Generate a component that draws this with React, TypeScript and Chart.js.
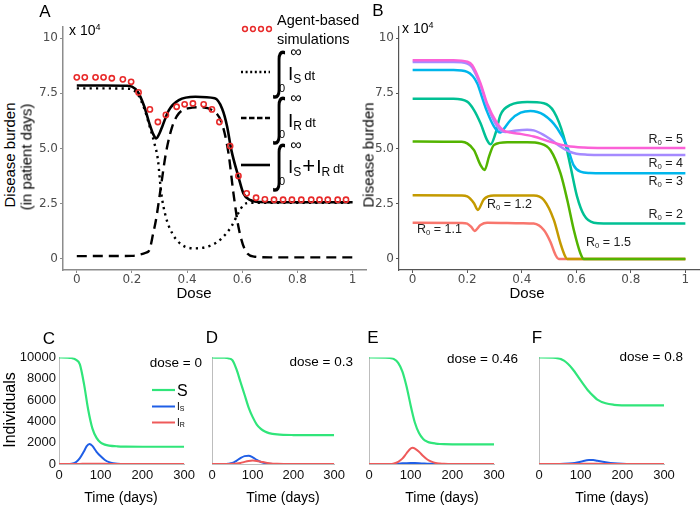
import React, { useEffect, useRef } from "react";
import { Chart, registerables } from "chart.js";
Chart.register(...registerables);

const SANS = '"Liberation Sans", Arial, sans-serif';
const DEJAVU = '"DejaVu Sans", sans-serif';

// ---------- Panel A (dose vs disease burden, x 10^4) ----------
const DOSE_TICKS = [0, 0.2, 0.4, 0.6, 0.8, 1];
const DOSE_TICK_LABELS = ["0", "0.2", "0.4", "0.6", "0.8", "1"];
const BURDEN_TICKS = [0, 2.5, 5, 7.5, 10];
const BURDEN_TICK_LABELS = ["0", "2.5", "5.0", "7.5", "10"];

const A_ABM_DOSE = [0, 0.029, 0.068, 0.097, 0.127, 0.167, 0.197, 0.224, 0.265, 0.294, 0.323, 0.362, 0.391, 0.421, 0.46, 0.49, 0.517, 0.556, 0.586, 0.616, 0.65, 0.682, 0.715, 0.748, 0.78, 0.814, 0.85, 0.88, 0.91, 0.946, 0.976];
const A_ABM = [8.22, 8.22, 8.22, 8.22, 8.18, 8.13, 8.02, 7.54, 6.77, 6.2, 6.52, 6.89, 7.0, 7.04, 7.0, 6.77, 6.2, 5.11, 3.76, 2.97, 2.77, 2.7, 2.68, 2.68, 2.68, 2.68, 2.68, 2.68, 2.68, 2.68, 2.68];

const A_TOTAL_DOSE = [0, 0.1, 0.18, 0.2, 0.221, 0.245, 0.263, 0.277, 0.288, 0.3, 0.31, 0.334, 0.37, 0.43, 0.5, 0.527, 0.545, 0.56, 0.586, 0.604, 0.628, 0.66, 0.75, 1.0];
const A_TOTAL = [7.85, 7.85, 7.84, 7.8, 7.57, 6.89, 6.14, 5.65, 5.46, 5.69, 6.0, 6.74, 7.19, 7.34, 7.27, 6.8, 6.0, 4.95, 3.72, 2.97, 2.67, 2.58, 2.57, 2.57];

const A_IS_DOSE = [0, 0.1, 0.18, 0.2, 0.221, 0.245, 0.263, 0.28, 0.294, 0.306, 0.323, 0.346, 0.382, 0.43, 0.49, 0.526, 0.56, 0.586, 0.604, 0.63, 0.7, 1.0];
const A_IS = [7.72, 7.72, 7.71, 7.67, 7.45, 6.8, 6.05, 5.3, 4.5, 3.0, 1.9, 1.16, 0.63, 0.48, 0.63, 0.94, 1.46, 2.08, 2.44, 2.54, 2.54, 2.54];

const A_IR_DOSE = [0, 0.2, 0.23, 0.25, 0.263, 0.277, 0.287, 0.305, 0.323, 0.346, 0.37, 0.418, 0.44, 0.49, 0.526, 0.55, 0.568, 0.586, 0.61, 0.646, 0.7, 1.0];
const A_IR = [0.13, 0.14, 0.2, 0.28, 0.4, 1.16, 1.76, 3.27, 4.78, 5.99, 6.59, 6.85, 6.87, 6.74, 6.14, 4.78, 2.97, 1.46, 0.41, 0.1, 0.07, 0.07];

// ---------- Panel B (burden by R0) ----------
const B_R5_DOSE = [0, 0.15, 0.2, 0.218, 0.249, 0.273, 0.31, 0.335, 0.36, 0.4, 0.444, 0.505, 0.567, 0.628, 0.7, 1.0];
const B_R5 = [9.0, 9.0, 8.93, 8.78, 7.95, 7.04, 6.14, 5.8, 5.72, 5.65, 5.54, 5.3, 5.11, 5.04, 5.02, 5.02];
const B_R4_DOSE = [0, 0.15, 0.2, 0.218, 0.249, 0.273, 0.3, 0.32, 0.34, 0.38, 0.42, 0.444, 0.48, 0.505, 0.54, 0.567, 0.6, 0.64, 0.7, 1.0];
const B_R4 = [8.91, 8.91, 8.85, 8.68, 7.85, 6.95, 6.2, 5.85, 5.75, 5.82, 5.85, 5.82, 5.62, 5.42, 5.1, 4.9, 4.76, 4.72, 4.71, 4.71];
const B_R3_DOSE = [0, 0.15, 0.2, 0.237, 0.255, 0.273, 0.298, 0.312, 0.322, 0.335, 0.359, 0.396, 0.432, 0.481, 0.53, 0.567, 0.59, 0.615, 0.65, 0.7, 1.0];
const B_R3 = [8.55, 8.55, 8.47, 7.95, 7.3, 6.67, 6.0, 5.78, 5.72, 5.9, 6.29, 6.62, 6.7, 6.52, 5.92, 5.08, 4.25, 3.95, 3.89, 3.88, 3.88];
const B_R2_DOSE = [0, 0.15, 0.2, 0.225, 0.249, 0.273, 0.286, 0.304, 0.322, 0.359, 0.42, 0.481, 0.518, 0.554, 0.579, 0.603, 0.628, 0.664, 0.7, 1.0];
const B_R2 = [7.25, 7.25, 7.12, 6.74, 6.14, 5.38, 5.19, 5.69, 6.52, 6.97, 7.1, 7.05, 6.67, 5.54, 4.18, 2.82, 1.99, 1.64, 1.61, 1.61];
const B_R15_DOSE = [0, 0.18, 0.2, 0.225, 0.249, 0.264, 0.28, 0.298, 0.347, 0.42, 0.469, 0.505, 0.542, 0.567, 0.591, 0.615, 0.628, 0.7, 1.0];
const B_R15 = [5.32, 5.3, 5.23, 4.93, 4.25, 4.03, 4.63, 5.16, 5.28, 5.28, 5.22, 4.93, 3.88, 2.67, 1.31, 0.26, 0, 0, 0];
const B_R12_DOSE = [0, 0.18, 0.2, 0.225, 0.239, 0.261, 0.298, 0.444, 0.481, 0.518, 0.542, 0.56, 0.567, 0.7, 1.0];
const B_R12 = [2.88, 2.87, 2.83, 2.52, 2.22, 2.7, 2.87, 2.87, 2.67, 1.76, 0.71, 0.1, 0, 0, 0];
const B_R11_DOSE = [0, 0.18, 0.2, 0.215, 0.227, 0.249, 0.273, 0.4, 0.444, 0.481, 0.505, 0.524, 0.536, 0.7, 1.0];
const B_R11 = [1.64, 1.63, 1.6, 1.45, 1.27, 1.54, 1.64, 1.62, 1.6, 1.31, 0.78, 0.18, 0, 0, 0];

// ---------- Panels C-F (time courses) ----------
const TIME_TICKS = [0, 100, 200, 300];
const TIME_TICK_LABELS = ["0", "100", "200", "300"];
const IND_TICKS = [0, 2000, 4000, 6000, 8000, 10000];
const IND_TICK_LABELS = ["0", "2000", "4000", "6000", "8000", "10000"];

const C_T_S = [0, 20, 30, 40, 50, 60, 70, 80, 90, 100, 110, 120, 140, 160, 200, 250, 300];
const C_S = [10000, 9990, 9950, 9800, 9350, 7500, 5100, 3350, 2450, 2000, 1820, 1730, 1660, 1635, 1620, 1620, 1620];
const C_T_I = [0, 20, 30, 40, 50, 60, 66, 73, 80, 90, 100, 110, 120, 130, 140, 160, 200, 300];
const C_IS = [0, 0, 20, 150, 550, 1200, 1650, 1870, 1700, 1150, 720, 380, 170, 70, 20, 0, 0, 0];
const C_IR = [0, 0, 0, 5, 10, 20, 25, 30, 30, 25, 20, 15, 10, 5, 0, 0, 0, 0];

const D_T = [0, 30, 40, 50, 60, 70, 80, 90, 100, 110, 120, 130, 140, 160, 200, 250, 300];
const D_S = [10000, 9980, 9930, 9750, 8900, 7700, 6500, 5300, 4400, 3700, 3300, 3050, 2900, 2780, 2720, 2710, 2710];
const D_IS = [0, 0, 20, 90, 300, 560, 740, 770, 620, 380, 190, 80, 30, 0, 0, 0, 0];
const D_IR = [0, 0, 5, 15, 40, 100, 200, 280, 320, 290, 220, 140, 80, 20, 0, 0, 0];

const E_T = [0, 40, 50, 60, 70, 80, 90, 100, 105, 110, 120, 130, 140, 150, 160, 170, 180, 200, 250, 300];
const E_S = [10000, 9990, 9950, 9850, 9500, 8700, 7300, 5500, 4650, 3900, 2900, 2350, 2100, 1980, 1920, 1880, 1860, 1850, 1850, 1850];
const E_IR = [0, 0, 0, 50, 200, 500, 1000, 1450, 1530, 1450, 1150, 750, 420, 220, 100, 50, 20, 0, 0, 0];
const E_IS = [0, 0, 0, 10, 30, 60, 80, 90, 90, 85, 70, 50, 30, 15, 10, 5, 0, 0, 0, 0];

const F_T = [0, 40, 60, 80, 100, 120, 130, 140, 160, 180, 200, 220, 250, 300];
const F_S = [10000, 9970, 9700, 8950, 7850, 6800, 6400, 6050, 5700, 5560, 5510, 5500, 5500, 5500];
const F_IS = [0, 0, 20, 80, 220, 370, 370, 300, 170, 70, 20, 0, 0, 0];
const F_IR = [0, 0, 0, 5, 10, 15, 15, 12, 8, 5, 0, 0, 0, 0];

// ---------- colours ----------
const ABM_RED = "#e82a2a";
const R0_COLORS = { r11: "#F8766D", r12: "#C49A00", r15: "#53B400", r2: "#00C094", r3: "#00B6EB", r4: "#A58AFF", r5: "#FB61D7" };
const S_GREEN = "#30e57a";
const IS_BLUE = "#1f5ee6";
const IR_RED = "#ee5a5a";

const pts = (xs: number[], ys: number[]) => xs.map((x, i) => ({ x, y: ys[i] }));

type Box = { left: number; top: number; width: number; height: number };
type Area = { l: number; t: number; r: number; b: number };

function ChartBox({ box, area, make }: { box: Box; area: Area; make: () => any }) {
  const ref = useRef<HTMLCanvasElement>(null);
  useEffect(() => {
    const cfg = make();
    const yW = area.l - box.left;
    const xH = box.top + box.height - area.b;
    cfg.options.layout = { padding: { top: area.t - box.top, right: box.left + box.width - area.r, left: 0, bottom: 0 } };
    cfg.options.scales.x.afterFit = (s: any) => { s.height = xH; };
    cfg.options.scales.y.afterFit = (s: any) => { s.width = yW; };
    const chart = new Chart(ref.current as HTMLCanvasElement, cfg);
    return () => chart.destroy();
  }, []);
  return (
    <canvas
      ref={ref}
      width={box.width}
      height={box.height}
      style={{ position: "absolute", left: box.left, top: box.top, width: box.width, height: box.height }}
    />
  );
}

const lineDs = (data: any[], color: string, width: number, order: number, dash: number[] = []) => ({
  data,
  showLine: true,
  borderColor: color,
  borderWidth: width,
  borderDash: dash,
  pointRadius: 0,
  cubicInterpolationMode: "monotone",
  fill: false,
  order,
});

const baseOptions = () => ({
  responsive: false,
  maintainAspectRatio: false,
  devicePixelRatio: 1,
  animation: false,
  events: [],
  plugins: { legend: { display: false }, tooltip: { enabled: false } },
});

function doseScales(axisColor: string, axisWidth: number) {
  const tickFont = { family: DEJAVU, size: 12, lineHeight: 1 };
  return {
    x: {
      type: "linear",
      min: -0.05,
      max: 1.05,
      afterBuildTicks: (s: any) => { s.ticks = DOSE_TICKS.map((v) => ({ value: v })); },
      ticks: { callback: (_v: any, i: number) => DOSE_TICK_LABELS[i], font: tickFont, color: "#4d4d4d", padding: 1, maxRotation: 0, autoSkip: false },
      grid: { drawOnChartArea: false, drawTicks: true, tickLength: 3, color: axisColor, lineWidth: 1 },
      border: { display: true, color: axisColor, width: axisWidth },
    },
    y: {
      type: "linear",
      min: -0.5,
      max: 10.5,
      afterBuildTicks: (s: any) => { s.ticks = BURDEN_TICKS.map((v) => ({ value: v })); },
      ticks: { callback: (_v: any, i: number) => BURDEN_TICK_LABELS[i], font: tickFont, color: "#4d4d4d", padding: 2, autoSkip: false },
      grid: { drawOnChartArea: false, drawTicks: true, tickLength: 3, color: axisColor, lineWidth: 1 },
      border: { display: true, color: axisColor, width: axisWidth },
    },
  };
}

const makeA = () => ({
  type: "scatter",
  data: {
    datasets: [
      {
        data: pts(A_ABM_DOSE, A_ABM),
        showLine: false,
        pointRadius: 2.6,
        pointBorderWidth: 1.6,
        pointBorderColor: ABM_RED,
        pointBackgroundColor: "rgba(255,255,255,0)",
        order: 0,
      },
      lineDs(pts(A_TOTAL_DOSE, A_TOTAL), "#000", 2.6, 1),
      lineDs(pts(A_IR_DOSE, A_IR), "#000", 2.4, 2, [10, 6]),
      lineDs(pts(A_IS_DOSE, A_IS), "#000", 2.4, 3, [2.2, 4.2]),
    ],
  },
  options: { ...baseOptions(), scales: doseScales("#8c8c8c", 1.5) },
});

const makeB = () => ({
  type: "scatter",
  data: {
    datasets: [
      lineDs(pts(B_R5_DOSE, B_R5), R0_COLORS.r5, 2.5, 1),
      lineDs(pts(B_R4_DOSE, B_R4), R0_COLORS.r4, 2.5, 2),
      lineDs(pts(B_R3_DOSE, B_R3), R0_COLORS.r3, 2.5, 3),
      lineDs(pts(B_R2_DOSE, B_R2), R0_COLORS.r2, 2.5, 4),
      lineDs(pts(B_R15_DOSE, B_R15), R0_COLORS.r15, 2.5, 5),
      lineDs(pts(B_R12_DOSE, B_R12), R0_COLORS.r12, 2.5, 6),
      lineDs(pts(B_R11_DOSE, B_R11), R0_COLORS.r11, 2.5, 7),
    ],
  },
  options: { ...baseOptions(), scales: doseScales("#555", 1.2) },
});

function makeTime(tS: number[], s: number[], tI: number[], is: number[], ir: number[], showY: boolean) {
  return () => ({
    type: "scatter",
    data: {
      datasets: [
        lineDs(pts(tI, ir), IR_RED, 2, 1),
        lineDs(pts(tI, is), IS_BLUE, 2, 2),
        lineDs(pts(tS, s), S_GREEN, 2.2, 3),
      ],
    },
    options: {
      ...baseOptions(),
      scales: {
        x: {
          type: "linear",
          min: 0,
          max: 300,
          afterBuildTicks: (sc: any) => { sc.ticks = TIME_TICKS.map((v) => ({ value: v })); },
          ticks: { callback: (_v: any, i: number) => TIME_TICK_LABELS[i], font: { family: SANS, size: 13, lineHeight: 1 }, color: "#111", padding: 5, maxRotation: 0, autoSkip: false },
          grid: { drawOnChartArea: false, drawTicks: false },
          border: { display: true, color: "#bdbdbd", width: 1 },
        },
        y: {
          type: "linear",
          min: 0,
          max: 10000,
          afterBuildTicks: (sc: any) => { sc.ticks = IND_TICKS.map((v) => ({ value: v })); },
          ticks: { display: showY, callback: (_v: any, i: number) => IND_TICK_LABELS[i], font: { family: SANS, size: 13, lineHeight: 1 }, color: "#111", padding: 3, autoSkip: false },
          grid: { drawOnChartArea: false, drawTicks: false },
          border: { display: true, color: "#bdbdbd", width: 1 },
        },
      },
    },
  });
}

function Txt({ x, y, size = 14, anchor = "middle", rotate = 0, extra = "", color = "#000", family = SANS, weight = 400, children }: any) {
  const tx = anchor === "middle" ? "-50%" : anchor === "end" ? "-100%" : "0";
  return (
    <div
      style={{
        position: "absolute",
        left: x,
        top: y,
        transform: `translate(${tx},-50%)${rotate ? ` rotate(${rotate}deg)` : ""}${extra ? " " + extra : ""}`,
        fontSize: size,
        fontWeight: weight,
        lineHeight: 1,
        whiteSpace: "nowrap",
        color,
        fontFamily: family,
      }}
    >
      {children}
    </div>
  );
}

const Sub = ({ children, size = "0.62em", drop = "-0.28em" }: any) => (
  <span style={{ fontSize: size, verticalAlign: drop, lineHeight: 0 }}>{children}</span>
);

function R0Label({ x, y, value, anchor = "end" }: any) {
  return (
    <Txt x={x} y={y} size={12.5} anchor={anchor} color="#222">
      R<Sub>0</Sub> = {value}
    </Txt>
  );
}

function Integral({ y }: { y: number }) {
  return (
    <>
      <Txt x={279} y={y} size={34} family={'"DejaVu Sans", sans-serif'} weight={200} extra="scale(0.95, 1.5)">∫</Txt>
      <Txt x={296} y={y - 18} size={16} family={DEJAVU} weight={200}>∞</Txt>
      <Txt x={282} y={y + 18} size={11}>0</Txt>
    </>
  );
}

export default function App() {
  return (
    <div style={{ position: "absolute", left: 0, top: 0, width: 700, height: 506, background: "#fff", overflow: "hidden", fontFamily: SANS }}>
      <ChartBox box={{ left: 30, top: 15, width: 342, height: 275 }} area={{ l: 63, t: 27, r: 369, b: 270 }} make={makeA} />
      <ChartBox box={{ left: 372, top: 15, width: 328, height: 275 }} area={{ l: 399, t: 27, r: 699, b: 270 }} make={makeB} />
      <ChartBox box={{ left: 0, top: 345, width: 200, height: 140 }} area={{ l: 59, t: 357.5, r: 185, b: 464 }} make={makeTime(C_T_S, C_S, C_T_I, C_IS, C_IR, true)} />
      <ChartBox box={{ left: 190, top: 345, width: 160, height: 140 }} area={{ l: 212, t: 357.5, r: 337, b: 464 }} make={makeTime(D_T, D_S, D_T, D_IS, D_IR, false)} />
      <ChartBox box={{ left: 350, top: 345, width: 160, height: 140 }} area={{ l: 369, t: 357.5, r: 494, b: 464 }} make={makeTime(E_T, E_S, E_T, E_IS, E_IR, false)} />
      <ChartBox box={{ left: 520, top: 345, width: 165, height: 140 }} area={{ l: 539, t: 357.5, r: 664, b: 464 }} make={makeTime(F_T, F_S, F_T, F_IS, F_IR, false)} />

      {/* panel letters */}
      <Txt x={45} y={11} size={17}>A</Txt>
      <Txt x={378} y={10} size={17}>B</Txt>
      <Txt x={49} y={337.5} size={17}>C</Txt>
      <Txt x={212} y={337} size={17}>D</Txt>
      <Txt x={373} y={337} size={17}>E</Txt>
      <Txt x={537} y={337} size={17}>F</Txt>

      {/* axis titles top */}
      <Txt x={9} y={155} size={15} rotate={-90}>Disease burden</Txt>
      <Txt x={26} y={157} size={15} rotate={-90}>(in patient days)</Txt>
      <Txt x={368} y={155} size={15} rotate={-90}>Disease burden</Txt>
      <Txt x={194} y={292} size={15}>Dose</Txt>
      <Txt x={527} y={292} size={15}>Dose</Txt>
      <Txt x={69} y={30} size={14} anchor="start">x 10<sup style={{ fontSize: 9, verticalAlign: "0.6em", lineHeight: 0 }}>4</sup></Txt>
      <Txt x={402} y={28} size={14} anchor="start">x 10<sup style={{ fontSize: 9, verticalAlign: "0.6em", lineHeight: 0 }}>4</sup></Txt>

      {/* panel A legend */}
      <svg width={700} height={506} style={{ position: "absolute", left: 0, top: 0, pointerEvents: "none" }}>
        {[245, 253, 261, 269].map((cx) => (
          <circle key={cx} cx={cx} cy={29} r={2.4} fill="none" stroke={ABM_RED} strokeWidth={1.5} />
        ))}
        <line x1={241} y1={72} x2={270} y2={72} stroke="#000" strokeWidth={2.4} strokeDasharray="2 2.6" />
        <line x1={241} y1={118} x2={270} y2={118} stroke="#000" strokeWidth={2.4} strokeDasharray="5.5 2.5" />
        <line x1={241} y1={165} x2={270} y2={165} stroke="#000" strokeWidth={2.6} />
        {/* panel C legend */}
        <line x1={152} y1={390} x2={175} y2={390} stroke={S_GREEN} strokeWidth={2.2} />
        <line x1={152} y1={406.5} x2={175} y2={406.5} stroke={IS_BLUE} strokeWidth={2} />
        <line x1={152} y1={422.5} x2={175} y2={422.5} stroke={IR_RED} strokeWidth={2} />
      </svg>
      <Txt x={277} y={20} size={14.5} anchor="start">Agent-based</Txt>
      <Txt x={277} y={39} size={14.5} anchor="start">simulations</Txt>
      <Integral y={70} />
      <Integral y={116} />
      <Integral y={163} />
      <Txt x={288} y={73} size={19} anchor="start">I<Sub size={12} drop="-0.25em">S</Sub><span style={{ fontSize: 13, marginLeft: 3 }}>dt</span></Txt>
      <Txt x={288} y={120} size={19} anchor="start">I<Sub size={12} drop="-0.25em">R</Sub><span style={{ fontSize: 13, marginLeft: 3 }}>dt</span></Txt>
      <Txt x={288} y={166} size={19} anchor="start">I<Sub size={12} drop="-0.25em">S</Sub><span style={{ fontSize: 22, margin: "0 1px" }}>+</span>I<Sub size={12} drop="-0.25em">R</Sub><span style={{ fontSize: 13, marginLeft: 3 }}>dt</span></Txt>

      {/* panel B labels */}
      <R0Label x={683} y={139} value="5" />
      <R0Label x={683} y={162.5} value="4" />
      <R0Label x={683} y={180.5} value="3" />
      <R0Label x={683} y={214} value="2" />
      <R0Label x={586} y={242} value="1.5" anchor="start" />
      <R0Label x={487} y={203.5} value="1.2" anchor="start" />
      <R0Label x={417} y={228.5} value="1.1" anchor="start" />

      {/* bottom panels text */}
      <Txt x={10} y={410} size={16} rotate={-90}>Individuals</Txt>
      <Txt x={121} y={497} size={14}>Time (days)</Txt>
      <Txt x={283} y={497} size={14}>Time (days)</Txt>
      <Txt x={442} y={497} size={14}>Time (days)</Txt>
      <Txt x={612} y={497} size={14}>Time (days)</Txt>
      <Txt x={202} y={363} size={13.5} anchor="end">dose = 0</Txt>
      <Txt x={353} y={362} size={13.5} anchor="end">dose = 0.3</Txt>
      <Txt x={518} y={359} size={13.5} anchor="end">dose = 0.46</Txt>
      <Txt x={683} y={357} size={13.5} anchor="end">dose = 0.8</Txt>
      <Txt x={177} y={390.5} size={16} anchor="start">S</Txt>
      <Txt x={177} y={406.5} size={10} anchor="start">I<Sub size={7} drop="-0.1em">S</Sub></Txt>
      <Txt x={177} y={422.5} size={10} anchor="start">I<Sub size={7} drop="-0.1em">R</Sub></Txt>
    </div>
  );
}
